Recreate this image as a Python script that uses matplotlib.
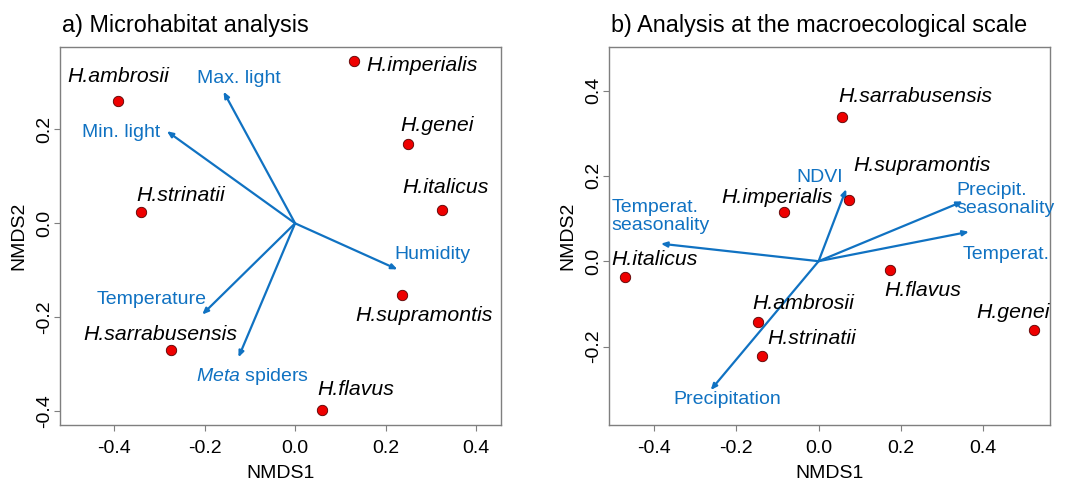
import matplotlib
matplotlib.use("Agg")
import matplotlib.pyplot as plt

plt.rcParams['font.family'] = ['Liberation Sans', 'DejaVu Sans']
plt.rcParams['mathtext.fontset'] = 'custom'
plt.rcParams['mathtext.it'] = 'Liberation Sans:italic'
plt.rcParams['mathtext.rm'] = 'Liberation Sans'

BLUE = '#1072c2'
GRAY = '#7f7f7f'

# ---- Panel a data ----
a_species = ['H.ambrosii', 'H.imperialis', 'H.genei', 'H.italicus', 'H.strinatii',
             'H.supramontis', 'H.sarrabusensis', 'H.flavus']
a_x = [-0.391, 0.130, 0.250, 0.325, -0.340, 0.237, -0.274, 0.059]
a_y = [0.261, 0.345, 0.169, 0.028, 0.024, -0.153, -0.269, -0.398]
a_lab_x = [-0.390, 0.280, 0.313, 0.333, -0.252, 0.285, -0.297, 0.134]
a_lab_y = [0.313, 0.335, 0.207, 0.076, 0.060, -0.197, -0.236, -0.353]

a_vars = ['Max. light', 'Min. light', 'Humidity', 'Temperature', r'$\it{Meta}$ spiders']
a_vx = [-0.158, -0.283, 0.226, -0.205, -0.125]
a_vy = [0.280, 0.196, -0.098, -0.194, -0.285]
a_vlab_x = [-0.125, -0.383, 0.304, -0.316, -0.094]
a_vlab_y = [0.307, 0.193, -0.067, -0.161, -0.326]

# ---- Panel b data ----
b_species = ['H.sarrabusensis', 'H.supramontis', 'H.imperialis', 'H.italicus', 'H.flavus',
             'H.ambrosii', 'H.strinatii', 'H.genei']
b_x = [0.056, 0.075, -0.083, -0.470, 0.173, -0.146, -0.138, 0.523]
b_y = [0.339, 0.143, 0.116, -0.036, -0.020, -0.143, -0.222, -0.162]
b_lab_x = [0.236, 0.252, -0.100, -0.398, 0.254, -0.038, -0.016, 0.473]
b_lab_y = [0.386, 0.224, 0.150, 0.004, -0.068, -0.098, -0.182, -0.121]

b_vars = ['NDVI', 'Precipit.\nseasonality', 'Temperat.', 'Temperat.\nseasonality', 'Precipitation']
b_vx = [0.067, 0.350, 0.365, -0.383, -0.262]
b_vy = [0.169, 0.140, 0.069, 0.041, -0.302]
b_vlab_x = [0.003, 0.335, 0.455, -0.503, -0.222]
b_vlab_y = [0.195, 0.145, 0.016, 0.104, -0.323]
b_vlab_ha = ['center', 'left', 'center', 'left', 'center']

ticks_x = [-0.4, -0.2, 0.0, 0.2, 0.4]

fig = plt.figure(figsize=(10.79, 4.83), dpi=100)
ax1 = fig.add_axes([0.0556, 0.120, 0.4085, 0.7827])
ax2 = fig.add_axes([0.5644, 0.120, 0.4090, 0.7827])


def style(ax, xlim, ylim, yticks, title):
    ax.set_xlim(*xlim)
    ax.set_ylim(*ylim)
    ax.set_xticks(ticks_x)
    ax.set_xticklabels(['%.1f' % t for t in ticks_x])
    ax.set_yticks(yticks)
    ax.set_yticklabels(['%.1f' % t for t in yticks], rotation=90, va='center')
    for s in ax.spines.values():
        s.set_color(GRAY)
        s.set_linewidth(1.0)
    ax.tick_params(direction='out', length=4.3, color=GRAY, labelsize=14)
    ax.tick_params(axis='x', pad=6.5)
    ax.tick_params(axis='y', pad=0.5)
    ax.set_xlabel('NMDS1', fontsize=14, va='center')
    ax.set_ylabel('NMDS2', fontsize=14, va='center')
    ax.xaxis.set_label_coords(0.5, -0.127)
    ax.yaxis.set_label_coords(-0.093, 0.5)
    ax.set_title(title, fontsize=16.8, loc='left', x=0.005, pad=11)


def draw(ax, sp, x, y, lx, ly, vars_, vx, vy, vlx, vly, vha):
    for xi, yi in zip(vx, vy):
        ax.annotate('', xy=(xi, yi), xytext=(0, 0),
                    arrowprops=dict(arrowstyle='-|>,head_length=0.35,head_width=0.15',
                                    color=BLUE, lw=1.6, shrinkA=0, shrinkB=0))
    ax.plot(x, y, 'o', ms=7.5, mfc='#ee0000', mec='#550000', mew=0.6, ls='none', zorder=5)
    for s, xi, yi in zip(sp, lx, ly):
        ax.text(xi, yi, s, fontsize=15.3, style='italic', ha='center', va='center', color='black')
    for s, xi, yi, ha in zip(vars_, vlx, vly, vha):
        ax.text(xi, yi, s, fontsize=14, ha=ha, va='center', color=BLUE, linespacing=1.1)


style(ax1, (-0.519, 0.454), (-0.429, 0.375), [-0.4, -0.2, 0.0, 0.2], 'a) Microhabitat analysis')
draw(ax1, a_species, a_x, a_y, a_lab_x, a_lab_y, a_vars, a_vx, a_vy, a_vlab_x, a_vlab_y,
     ['center'] * 5)

style(ax2, (-0.509, 0.5626), (-0.384, 0.502), [-0.2, 0.0, 0.2, 0.4],
      'b) Analysis at the macroecological scale')
draw(ax2, b_species, b_x, b_y, b_lab_x, b_lab_y, b_vars, b_vx, b_vy, b_vlab_x, b_vlab_y,
     b_vlab_ha)

fig.savefig('out.png', dpi=100)
